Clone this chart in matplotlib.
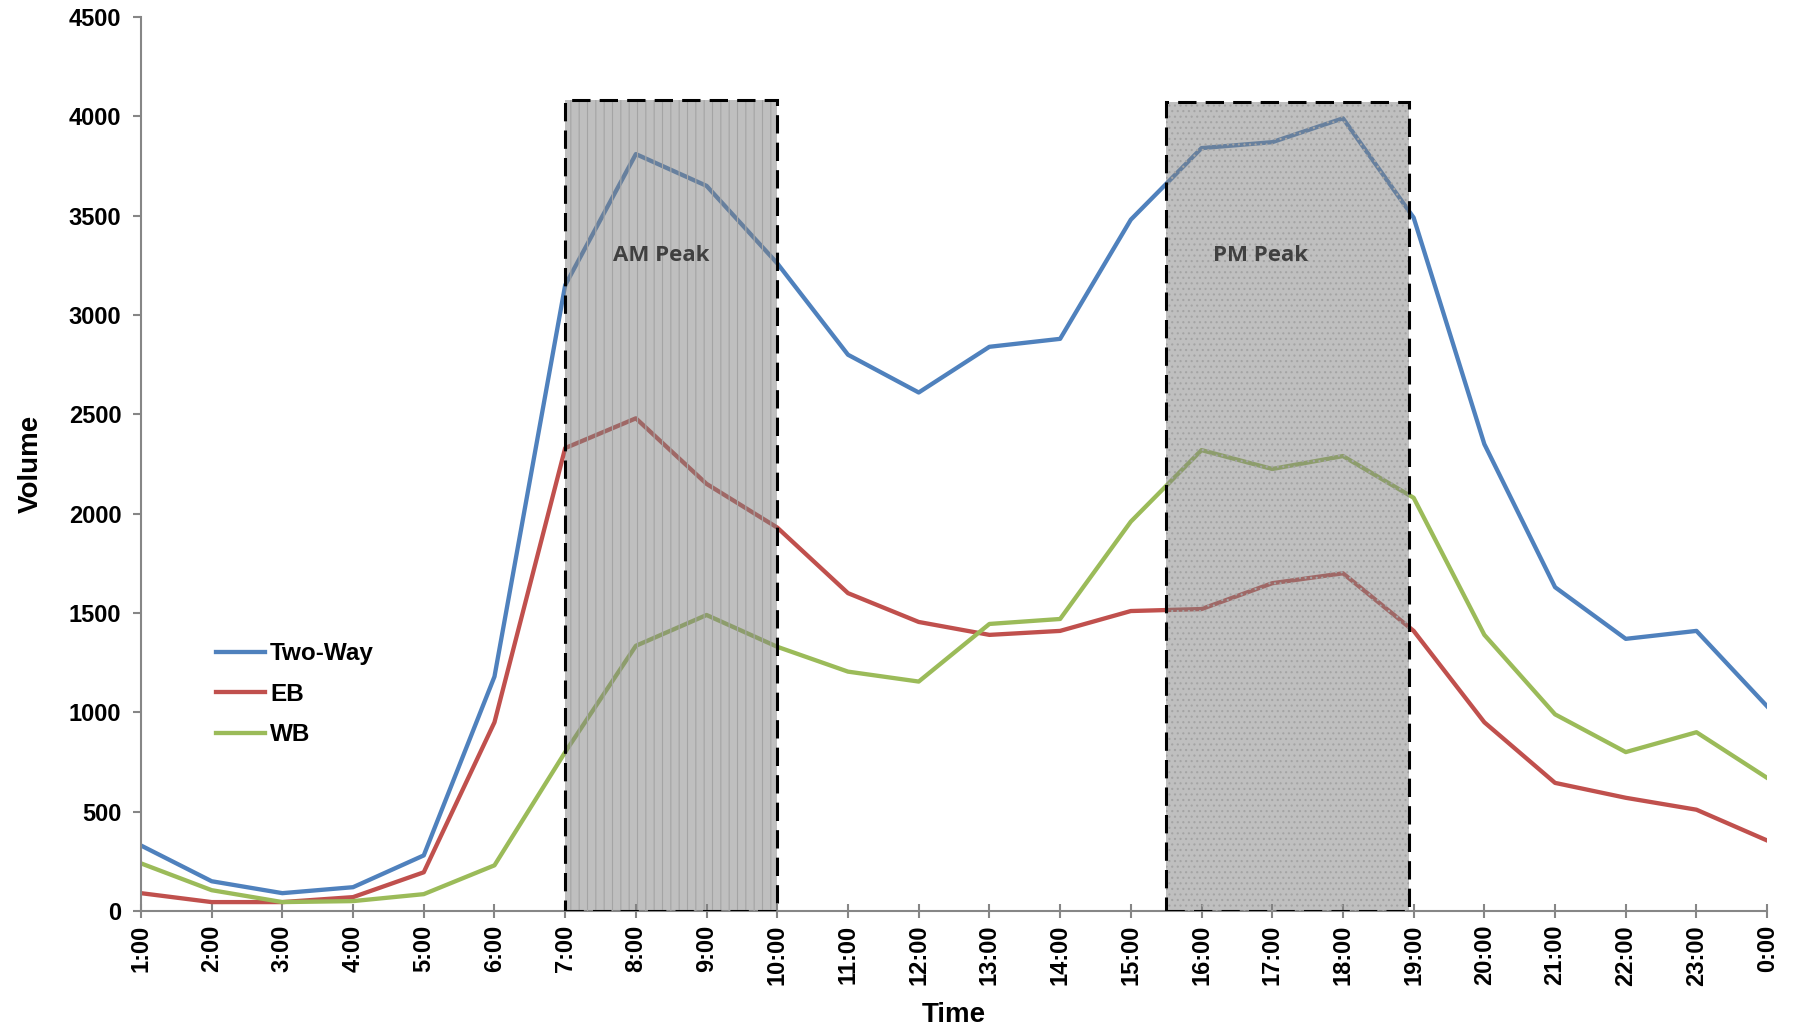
"""
Hourly traffic volume with AM / PM peak periods highlighted.
"""
import matplotlib
matplotlib.use("Agg")
import matplotlib.pyplot as plt
from matplotlib.patches import Rectangle

hours = ["1:00", "2:00", "3:00", "4:00", "5:00", "6:00", "7:00", "8:00",
         "9:00", "10:00", "11:00", "12:00", "13:00", "14:00", "15:00", "16:00",
         "17:00", "18:00", "19:00", "20:00", "21:00", "22:00", "23:00", "0:00"]

two_way = [330, 150, 90, 120, 280, 1180, 3150, 3810, 3650, 3260, 2800, 2610,
           2840, 2880, 3480, 3840, 3870, 3990, 3490, 2350, 1630, 1370, 1410, 1030]
eb = [90, 45, 45, 70, 195, 950, 2330, 2480, 2150, 1930, 1600, 1455,
      1390, 1410, 1510, 1520, 1650, 1700, 1410, 950, 645, 570, 510, 355]
wb = [240, 105, 45, 50, 85, 230, 800, 1335, 1490, 1330, 1205, 1155,
      1445, 1470, 1960, 2320, 2225, 2290, 2080, 1390, 990, 800, 900, 670]

# peak windows: (start, end, box top, label x, label, hatch)
peaks = [(6.0, 9.0, 4080, 7.36, "AM Peak", "||"),
         (14.5, 17.93, 4070, 15.83, "PM Peak", "...")]

plt.rcParams["font.family"] = ["Liberation Sans", "DejaVu Sans"]
plt.rcParams["font.weight"] = "bold"
plt.rcParams["hatch.linewidth"] = 0.8

fig = plt.figure(figsize=(17.93, 10.30), dpi=100)
ax = fig.add_axes([0.0786, 0.1155, 0.907, 0.868])

x = list(range(len(hours)))
ax.plot(x, two_way, color="#4F81BD", lw=3.1, label="Two-Way", zorder=2)
ax.plot(x, eb, color="#C0504D", lw=3.1, label="EB", zorder=2)
ax.plot(x, wb, color="#9BBB59", lw=3.1, label="WB", zorder=2)

for x0, x1, top, tx, name, hatch in peaks:
    ax.add_patch(Rectangle((x0, 0), x1 - x0, top, facecolor="#808080",
                           alpha=0.5, edgecolor="none", zorder=3))
    ax.add_patch(Rectangle((x0, 0), x1 - x0, top, facecolor="none",
                           edgecolor="#a4a4a4", hatch=hatch, lw=0, zorder=3))
    ax.add_patch(Rectangle((x0, 0), x1 - x0, top, facecolor="none",
                           edgecolor="black", lw=2.2, ls=(0, (6, 3)), zorder=4))
    ax.text(tx, 3300, name, ha="center", va="center",
            fontsize=16, color="#404040", family=["Open Sans", "DejaVu Sans"],
            fontweight="bold", zorder=5)

ax.set_xlim(0, len(hours) - 1)
ax.set_ylim(0, 4500)
ax.set_xticks(x)
ax.set_xticklabels(hours, rotation=90, fontsize=17, fontweight="bold")
ax.set_yticks(range(0, 4501, 500))
ax.tick_params(axis="y", labelsize=17, length=6, width=1.5, color="#868686", pad=8)
ax.tick_params(axis="x", direction="inout", length=10, width=1.5,
               color="#868686", pad=5)

for side in ("top", "right"):
    ax.spines[side].set_visible(False)
for side in ("left", "bottom"):
    ax.spines[side].set_color("#868686")
    ax.spines[side].set_linewidth(1.5)

ax.set_xlabel("Time", fontsize=20, fontweight="bold", labelpad=12)
ax.set_ylabel("Volume", fontsize=20, fontweight="bold", labelpad=18)

ax.legend(loc="upper left", bbox_to_anchor=(0.033, 0.325), frameon=False,
          fontsize=17.5, handlelength=2.0, handletextpad=0.2, labelspacing=0.72)

fig.savefig("out.png", dpi=100)
